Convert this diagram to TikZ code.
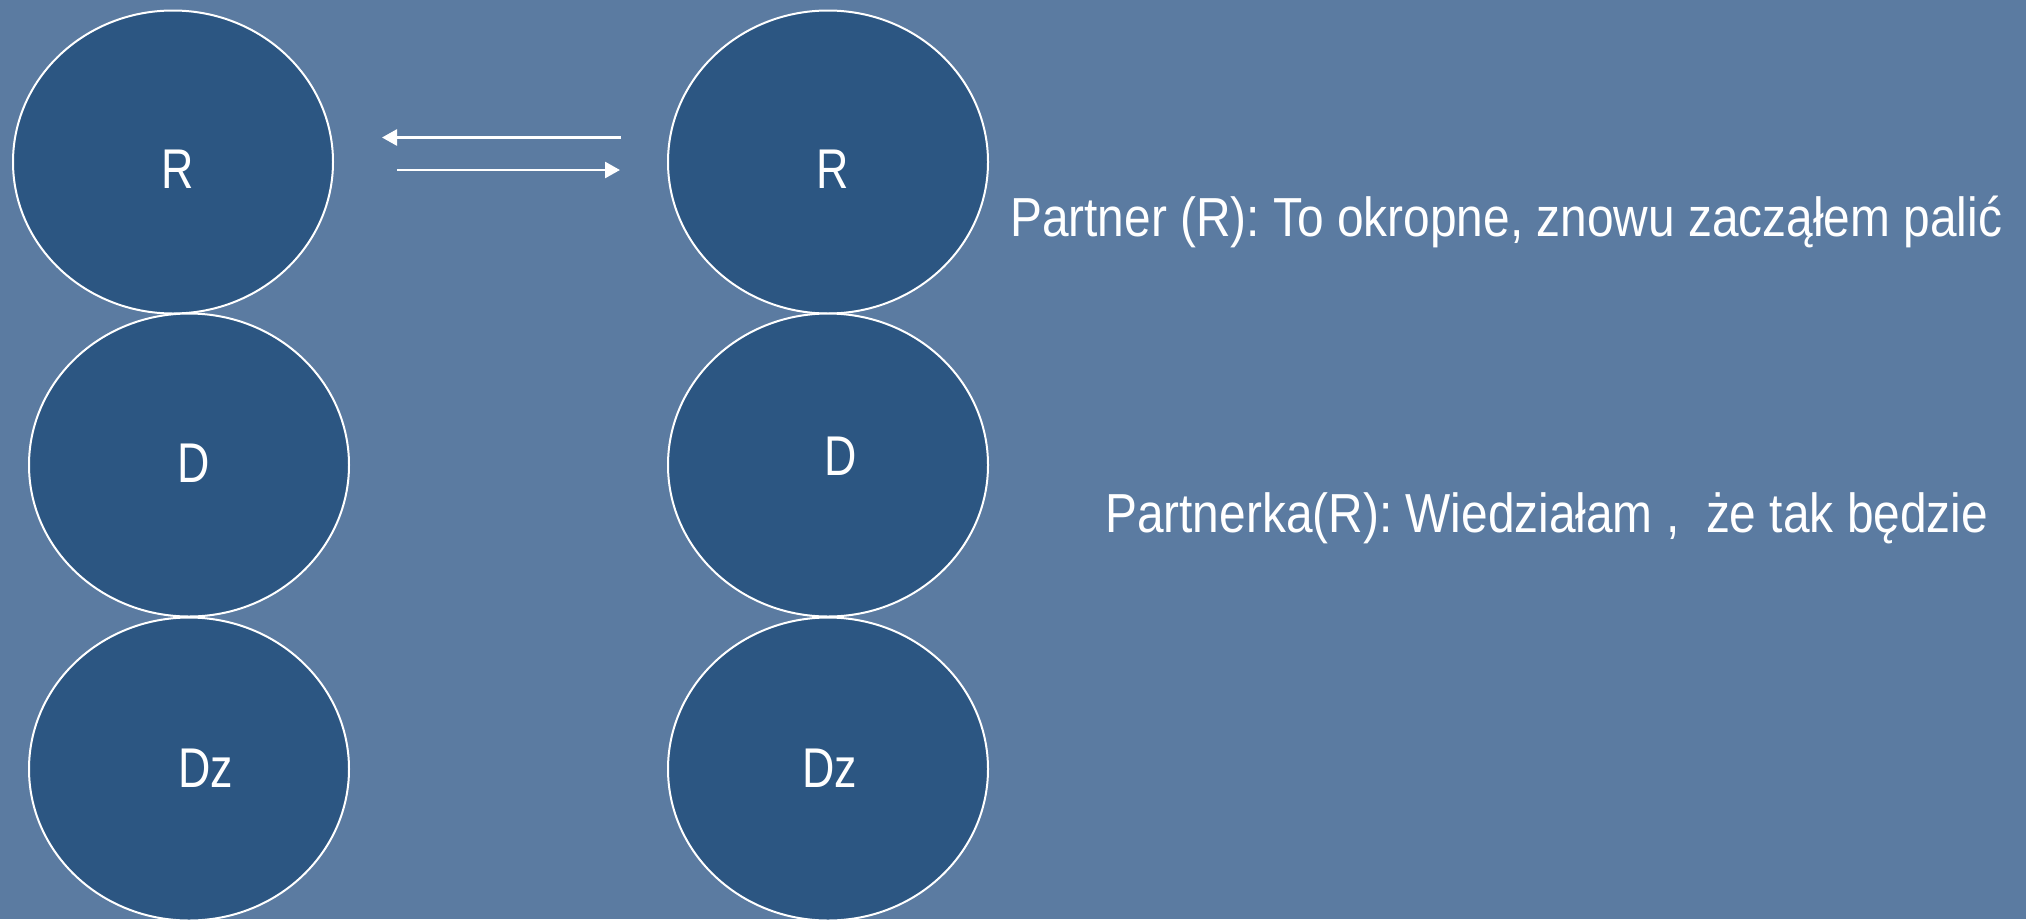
\documentclass[tikz,border=0pt]{standalone}
\usepackage{fontspec}
\setmainfont{Liberation Sans}
\newfontfamily\narrowfont[FakeStretch=0.80]{Liberation Sans}
\newfontfamily\sayfont[FakeStretch=0.87]{Liberation Sans}
\usetikzlibrary{shapes.geometric,arrows.meta}
\definecolor{bgblue}{HTML}{5B7BA1}
\definecolor{ovalblue}{HTML}{2C5682}
\tikzset{
  oval/.style={ellipse, draw=white, line width=2pt, fill=ovalblue, minimum width=320pt, minimum height=303pt, inner sep=0pt},
  lbl/.style={text=white, font=\narrowfont\fontsize{56pt}{60pt}\selectfont, inner sep=0pt, anchor=base},
  saying/.style={text=white, font=\sayfont\fontsize{55pt}{60pt}\selectfont, inner sep=0pt, anchor=base west},
  arr/.style={draw=white, line width=2.7pt, -{Triangle[length=15pt,width=16pt]}}
}
\begin{document}
\begin{tikzpicture}[x=1pt,y=-1pt]
\fill[bgblue] (0,0) rectangle (2026,919);
\useasboundingbox (0,0) rectangle (2026,919);
\node[oval] (rl) at (173,162) {};
\node[oval] (rr) at (828,162) {};
\node[oval] (dl) at (189,465) {};
\node[oval] (dr) at (828,465) {};
\node[oval] (dzl) at (189,769) {};
\node[oval] (dzr) at (828,769) {};
\node[lbl] (trl) at (178,188) {R};
\node[lbl] (trr) at (833,188) {R};
\node[lbl] (tdl) at (194,482) {D};
\node[lbl] (tdr) at (841,475) {D};
\node[lbl] (tdzl) at (206,787) {Dz};
\node[lbl] (tdzr) at (830,787) {Dz};
\coordinate (a1s) at (621,137.5);
\coordinate (a1e) at (382,137.5);
\coordinate (a2s) at (397,170);
\coordinate (a2e) at (620,170);
\draw[arr] (a1s) -- (a1e);
\draw[arr] (a2s) -- (a2e);
\node[saying] (s1) at (1010,236) {Partner (R): To okropne, znowu zacząłem palić};
\node[saying] (s2) at (1105,532) {Partnerka(R): Wiedziałam ,\ \ że tak będzie};
\end{tikzpicture}
\end{document}
